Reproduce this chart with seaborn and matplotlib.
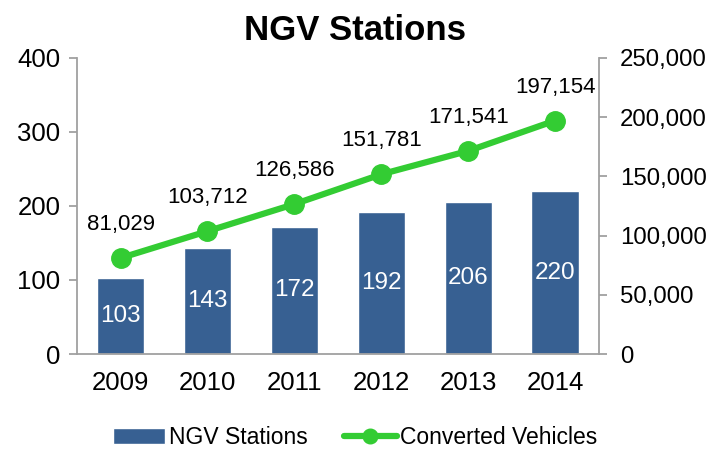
import matplotlib
matplotlib.use("Agg")
import matplotlib.pyplot as plt
import seaborn as sns
import pandas as pd
from matplotlib.ticker import FuncFormatter

years = ["2009", "2010", "2011", "2012", "2013", "2014"]
stations = [103, 143, 172, 192, 206, 220]
vehicles = [81029, 103712, 126586, 151781, 171541, 197154]

sns.set_theme(style="white")
plt.rcParams['font.family'] = ['Liberation Sans', 'DejaVu Sans']
plt.rcParams['text.color'] = 'black'
plt.rcParams['xtick.labelcolor'] = 'black'
plt.rcParams['ytick.labelcolor'] = 'black'

bar_color = "#376092"
line_color = "#33CC33"
spine_color = "#A0A0A0"

df = pd.DataFrame({"year": years, "stations": stations, "vehicles": vehicles})

fig = plt.figure(figsize=(7.1, 4.5), dpi=100)
ax = fig.add_axes([0.1085, 0.2133, 0.735, 0.658])
sns.barplot(data=df, x="year", y="stations", color=bar_color, width=0.55,
            saturation=1, ax=ax, label="NGV Stations", legend=False)
if ax.get_legend() is not None:
    ax.get_legend().remove()
ax.set_ylim(0, 400)
ax.set_yticks([0, 100, 200, 300, 400])
ax.set_xlim(-0.5, 5.5)
ax.set_xlabel("")
ax.set_ylabel("")
for i, v in enumerate(stations):
    ax.text(i, v / 2, str(v), ha="center", va="center", color="white", fontsize=17.5)

ax2 = ax.twinx()
ax2.plot(range(len(years)), vehicles, color=line_color, lw=4.5, marker="o",
         markersize=14, label="Converted Vehicles")
ax2.set_ylim(0, 250000)
ax2.set_yticks([0, 50000, 100000, 150000, 200000, 250000])
ax2.yaxis.set_major_formatter(FuncFormatter(lambda v, p: f"{int(v):,}"))
for i, v in enumerate(vehicles):
    ax2.annotate(f"{v:,}", (i, v), xytext=(0, 24), textcoords="offset points",
                 ha="center", va="center", fontsize=16, color="black")

for a in (ax, ax2):
    a.spines["top"].set_visible(False)
    for s in ("left", "right", "bottom"):
        a.spines[s].set_color(spine_color)
        a.spines[s].set_linewidth(1.3)
ax.spines["right"].set_visible(False)
ax2.spines["left"].set_visible(False)
ax2.spines["bottom"].set_visible(False)

ax.tick_params(axis="y", length=6, width=1.3, color=spine_color, labelsize=18.5,
               pad=6, left=True, direction="out")
ax.tick_params(axis="x", length=0, labelsize=18.5, pad=12)
ax2.tick_params(axis="y", length=6, width=1.3, color=spine_color, labelsize=17.3,
                pad=9, right=True, direction="out")

fig.suptitle("NGV Stations", x=0.5, y=0.97, fontsize=25, fontweight="bold")

h1, l1 = ax.get_legend_handles_labels()
h2, l2 = ax2.get_legend_handles_labels()
fig.legend(h1 + h2, l1 + l2, loc="center", bbox_to_anchor=(0.5, 0.027),
           ncol=2, frameon=False, fontsize=16.5, handlelength=2.3,
           columnspacing=1.6, handletextpad=0.15, borderpad=0, borderaxespad=0,
           markerscale=0.75)

fig.savefig("out.png", dpi=100)
